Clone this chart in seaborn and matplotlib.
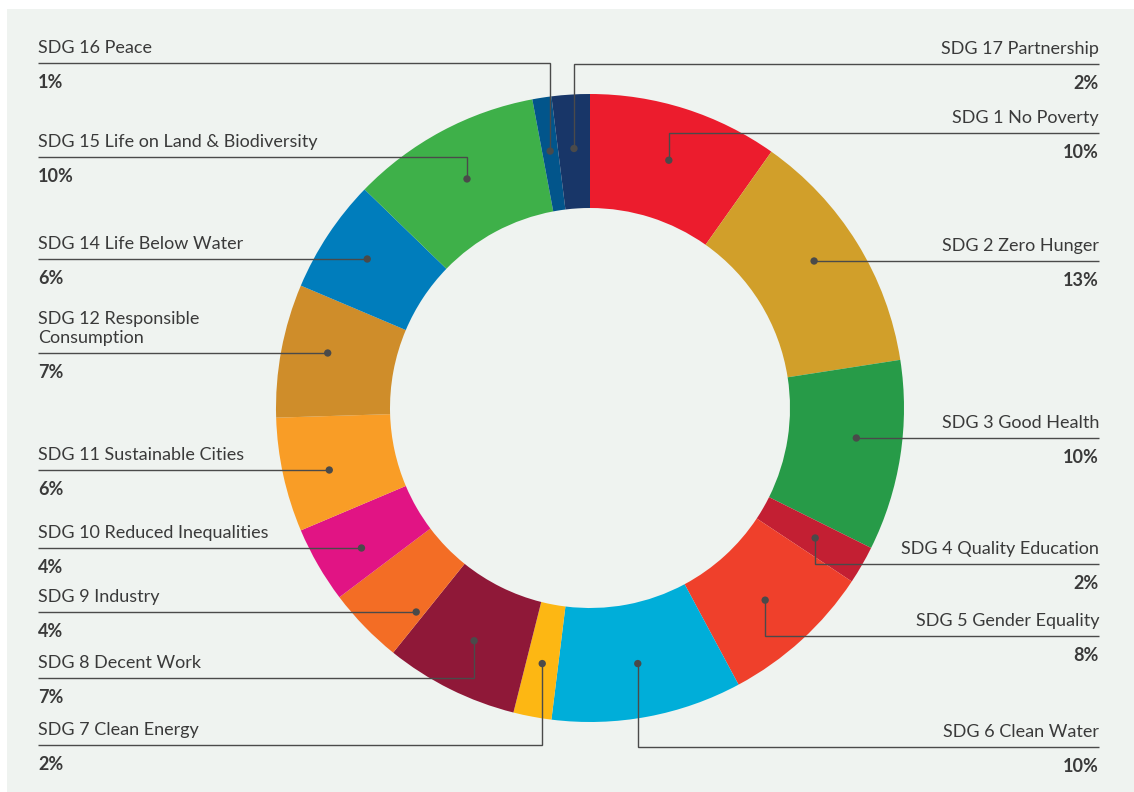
import numpy as np
import pandas as pd
import matplotlib
matplotlib.use("Agg")
import matplotlib.pyplot as plt
import seaborn as sns
from matplotlib.patches import Rectangle

# --- data ---
sdg_labels = [
    "SDG 1 No Poverty", "SDG 2 Zero Hunger", "SDG 3 Good Health",
    "SDG 4 Quality Education", "SDG 5 Gender Equality", "SDG 6 Clean Water",
    "SDG 7 Clean Energy", "SDG 8 Decent Work", "SDG 9 Industry",
    "SDG 10 Reduced Inequalities", "SDG 11 Sustainable Cities",
    "SDG 12 Responsible\nConsumption", "SDG 14 Life Below Water",
    "SDG 15 Life on Land & Biodiversity", "SDG 16 Peace", "SDG 17 Partnership",
]
shares = [10, 13, 10, 2, 8, 10, 2, 7, 4, 4, 6, 7, 6, 10, 1, 2]
sdg_colors = [
    "#ec1c2d", "#d19f2a", "#279b48", "#c31f33", "#ef402b", "#00aed9",
    "#fdb713", "#8f1838", "#f36d25", "#e11484", "#f99d26", "#cf8d2a",
    "#007dbc", "#3eb049", "#02558b", "#183668",
]

# --- label layout (pixel units, y down) ---
label_side = ["R", "R", "R", "R", "R", "R", "L", "L", "L", "L", "L", "L", "L", "L", "L", "R"]
line_y = [133, 261, 438, 564, 636, 747, 745, 678, 612, 548, 470, 353, 259, 157, 63, 64]
elbow = [True, False, False, True, True, True, True, True, False, False, False, False, False, True, True, True]

W, H = 1134, 792
cx, cy = 590, 408
r_out, r_in = 314, 200
r_dot_elbow, r_dot_straight = 260, 268
left_x, right_x = 38, 1099
txt_color = "#3a3a3a"
line_color = "#4a4a4a"
bg_color = "#eff3f0"

sns.set_theme(style="white")
plt.rcParams["font.family"] = ["Lato", "DejaVu Sans"]

fig = plt.figure(figsize=(W / 100, H / 100), dpi=100, facecolor="white")
ax = fig.add_axes([0, 0, 1, 1])

# y axis is flipped so that layout numbers are pixels from the top;
# pie angles therefore start at -90 and run "counterclock" to look clockwise
ax.pie(shares, colors=sdg_colors, radius=r_out, center=(cx, cy),
       startangle=-90, counterclock=True,
       wedgeprops=dict(width=r_out - r_in, linewidth=0))

ax.add_patch(Rectangle((7, 9), W - 7, H - 9, facecolor=bg_color,
                       edgecolor="none", zorder=-10))

total = sum(shares)
cum = np.cumsum([0] + shares[:-1])
mid_angle = np.radians((cum + np.array(shares) / 2) / total * 360)

dot_x, dot_y = [], []
for i, lab in enumerate(sdg_labels):
    side = label_side[i]
    ly = line_y[i]
    if elbow[i]:
        dx = cx + r_dot_elbow * np.sin(mid_angle[i])
        dy = cy - r_dot_elbow * np.cos(mid_angle[i])
        path_x = [dx, dx, left_x if side == "L" else right_x]
        path_y = [dy, ly, ly]
    else:
        off = np.sqrt(r_dot_straight ** 2 - (ly - cy) ** 2)
        dx = cx - off if side == "L" else cx + off
        dy = ly
        path_x = [dx, left_x if side == "L" else right_x]
        path_y = [dy, ly]
    dot_x.append(dx)
    dot_y.append(dy)
    ax.plot(path_x, path_y, color=line_color, lw=1.0, zorder=3,
            solid_capstyle="butt", solid_joinstyle="miter")

    tx = left_x if side == "L" else right_x
    ha = "left" if side == "L" else "right"
    ax.text(tx, ly - 10, lab, ha=ha, va="baseline", fontsize=13,
            color=txt_color, linespacing=1.25)
    ax.text(tx, ly + 25, f"{shares[i]}%", ha=ha, va="baseline", fontsize=13,
            fontweight="bold", color=txt_color)

dots = pd.DataFrame({"x": dot_x, "y": dot_y})
sns.scatterplot(data=dots, x="x", y="y", ax=ax, s=28, color=line_color,
                edgecolor="none", zorder=4, legend=False)

ax.set_xlim(0, W)
ax.set_ylim(H, 0)
ax.set_aspect("equal")
ax.set_axis_off()

fig.savefig("out.png", dpi=100, facecolor="white")
